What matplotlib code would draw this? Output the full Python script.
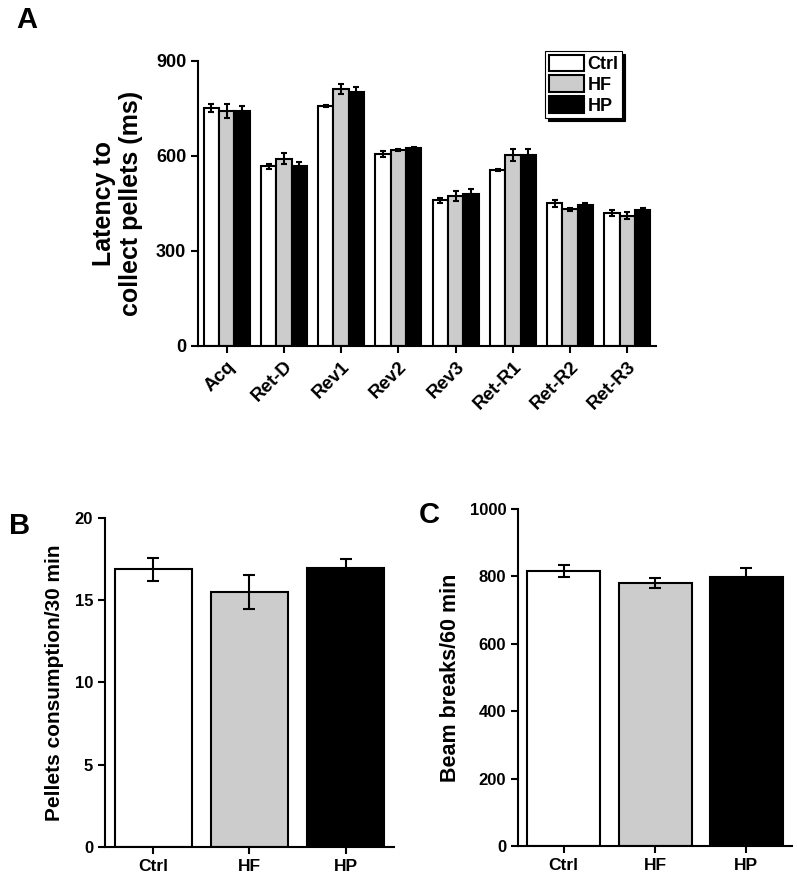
import matplotlib.pyplot as plt
import numpy as np

plt.rcParams['font.family'] = ['Liberation Sans', 'DejaVu Sans']
plt.rcParams['font.weight'] = 'bold'

# panel A
phases = ['Acq', 'Ret-D', 'Rev1', 'Rev2', 'Rev3', 'Ret-R1', 'Ret-R2', 'Ret-R3']
ctrl_lat = [752, 567, 758, 607, 460, 555, 450, 419]
ctrl_err = [12, 7, 3, 9, 8, 3, 10, 10]
hf_lat = [742, 591, 812, 620, 473, 603, 431, 411]
hf_err = [22, 17, 15, 3, 15, 18, 5, 11]
hp_lat = [742, 567, 801, 624, 480, 602, 444, 429]
hp_err = [16, 13, 17, 3, 16, 20, 8, 8]

# panels B and C
groups = ['Ctrl', 'HF', 'HP']
pellets = [16.87, 15.5, 16.93]
pellets_err = [0.72, 1.02, 0.6]
beams = [816, 781, 797]
beams_err = [19, 15, 29]

colors = ['white', '#cccccc', 'black']
ekw = dict(elinewidth=1.5, capthick=1.5, ecolor='black')

fig = plt.figure(figsize=(7.97, 8.73), dpi=100)


def style(ax):
    ax.spines['top'].set_visible(False)
    ax.spines['right'].set_visible(False)
    for s in ['left', 'bottom']:
        ax.spines[s].set_linewidth(1.5)
    ax.tick_params(width=1.5, length=5, direction='out')


# ---- A ----
axA = fig.add_axes([0.2484, 0.6037, 0.5747, 0.3265])
x = np.arange(len(phases))
w = 0.267
series = [(ctrl_lat, ctrl_err, 'Ctrl'), (hf_lat, hf_err, 'HF'), (hp_lat, hp_err, 'HP')]
for i, (vals, errs, lab) in enumerate(series):
    axA.bar(x + (i - 1) * w, vals, w, yerr=errs, color=colors[i], edgecolor='black',
            linewidth=1.5, capsize=2.5, error_kw=ekw, label=lab)
axA.set_xlim(-0.5, 7.5)
axA.set_ylim(0, 900)
axA.set_yticks([0, 300, 600, 900])
axA.set_xticks(x)
axA.set_xticklabels(phases, rotation=45, ha='right', rotation_mode='anchor', fontsize=13.5)
axA.tick_params(axis='y', labelsize=13)
axA.set_ylabel('Latency to\ncollect pellets (ms)', fontsize=18, fontweight='bold', labelpad=9)
style(axA)
leg = axA.legend(loc='upper right', bbox_to_anchor=(0.926, 1.035), borderaxespad=0,
                 fontsize=13, fancybox=False, edgecolor='black', framealpha=1,
                 shadow={'color': 'black', 'alpha': 1}, handlelength=1.95, handleheight=1.05,
                 handletextpad=0.2, labelspacing=0.12, borderpad=0.2)
leg.get_frame().set_linewidth(0.8)

# ---- B ----
axB = fig.add_axes([0.1317, 0.0298, 0.3626, 0.3769])
xb = np.arange(3)
axB.bar(xb, pellets, 0.8, yerr=pellets_err, color=colors, edgecolor='black',
        linewidth=1.5, capsize=4, error_kw=ekw)
axB.set_xlim(-0.5, 2.5)
axB.set_ylim(0, 20)
axB.set_yticks([0, 5, 10, 15, 20])
axB.set_xticks(xb)
axB.set_xticklabels(groups, fontsize=12.5)
axB.tick_params(axis='y', labelsize=12)
axB.set_ylabel('Pellets consumption/30 min', fontsize=15, fontweight='bold', labelpad=8)
style(axB)

# ---- C ----
axC = fig.add_axes([0.650, 0.0309, 0.3438, 0.386])
axC.bar(xb, beams, 0.8, yerr=beams_err, color=colors, edgecolor='black',
        linewidth=1.5, capsize=4, error_kw=ekw)
axC.set_xlim(-0.5, 2.5)
axC.set_ylim(0, 1000)
axC.set_yticks([0, 200, 400, 600, 800, 1000])
axC.set_xticks(xb)
axC.set_xticklabels(groups, fontsize=12.5)
axC.tick_params(axis='y', labelsize=12)
axC.set_ylabel('Beam breaks/60 min', fontsize=15.5, fontweight='bold', labelpad=6)
style(axC)

fig.text(0.033, 0.977, 'A', fontsize=21, fontweight='bold', ha='center', va='center')
fig.text(0.025, 0.397, 'B', fontsize=21, fontweight='bold', ha='center', va='center')
fig.text(0.538, 0.410, 'C', fontsize=21, fontweight='bold', ha='center', va='center')

fig.savefig('out.png', dpi=100)
